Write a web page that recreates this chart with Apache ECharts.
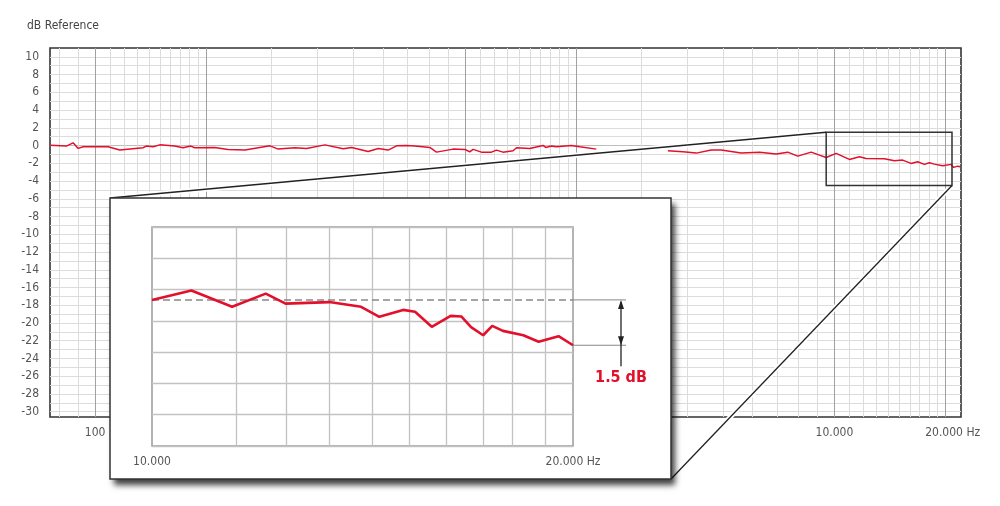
<!DOCTYPE html>
<html><head><meta charset="utf-8">
<script src="https://cdn.jsdelivr.net/npm/echarts@6/dist/echarts.min.js"></script>
<style>html,body{margin:0;padding:0;background:#fff}#c{width:1000px;height:506px}</style>
</head><body><div id="c"></div>
<script>
// ---- data ----
const mainHz = [75.6, 83.6, 87.2, 90.0, 92.8, 108.4, 116.6, 134.8, 137.6, 143.5, 149.6, 164.2, 172.9, 181.4, 186.0, 210.6, 228.8,
  254.3, 297.2, 313.0, 347.1, 373.4, 418.4, 469.0, 494.1, 547.8, 583.2, 620.5, 653.9, 695.8, 732.8,
  804.3, 838.5, 929.9, 1000, 1031.6, 1053, 1109.5, 1181, 1218, 1269, 1351, 1380, 1499, 1628, 1656, 1715, 1769, 1943, 2046, 2269,
  2900,
  3544, 3890, 4229, 4643, 4941, 5596, 6271, 6958, 7477, 7958, 8650, 9110,
  9497, 10106, 10979, 11685, 12182, 13650, 14530, 15295, 16118, 16795, 17510, 18064, 18637, 19621, 20682, 21017, 21545, 21910];
const mainDb = [0.05, -0.06, 0.31, -0.32, -0.14, -0.14, -0.51, -0.25, -0.06, -0.14, 0.08, -0.06, -0.25, -0.06, -0.25, -0.21, -0.43,
  -0.51, -0.03, -0.40, -0.25, -0.32, 0.08, -0.37, -0.21, -0.66, -0.32, -0.51, -0.03, 0.02, -0.06,
  -0.21, -0.74, -0.40, -0.43, -0.70, -0.43, -0.74, -0.74, -0.51, -0.74, -0.59, -0.25, -0.32, 0.02, -0.21, -0.06, -0.14, 0.02, -0.14, -0.40,
  null,
  -0.59, -0.70, -0.85, -0.51, -0.51, -0.85, -0.74, -0.96, -0.74, -1.19, -0.74, -1.08,
  -1.34, -0.88, -1.56, -1.27, -1.45, -1.49, -1.72, -1.64, -2.01, -1.83, -2.12, -1.94, -2.09, -2.28, -2.12, -2.46, -2.32, -2.39];

const insetHz = [10000, 10670, 11410, 12060, 12460, 13390, 14110, 14540, 15120, 15420, 15850, 16350, 16640, 16910, 17250, 17510, 17820, 18430, 18900, 19530, 20000];
const insetDb = [-1.33, -1.03, -1.55, -1.13, -1.45, -1.40, -1.55, -1.87, -1.65, -1.71, -2.19, -1.84, -1.86, -2.20, -2.46, -2.16, -2.32, -2.46, -2.67, -2.49, -2.78];

const yTickLabels = [10, 8, 6, 4, 2, 0, -2, -4, -6, -8, -10, -12, -14, -16, -18, -20, -22, -24, -26, -28, -30];
const xTickHz = [100, 10000, 20000];
const xTickText = ['100', '10.000', '20.000 Hz'];
const insetTickHz = [10000, 20000];
const insetTickText = ['10.000', '20.000 Hz'];
const insetGridHz = [11480, 12470, 13390, 14370, 15270, 16230, 17250, 18110, 19110];
const majorHz = [100, 200, 1000, 2000, 10000, 20000];
const zoomBox = { hzFrom: 9500, hzTo: 20800, dbTop: 1.5, dbBottom: -4.5 };
const yAxisTitle = 'dB Reference';
const dropLabel = '1.5 dB';

// ---- gridline lists (layout) ----
const minorHz = [80, 90];
[100, 1000, 10000].forEach(b => {
  for (let i = 11; i <= 19; i++) minorHz.push(b * i / 10);
  for (let i = 3; i <= 9; i++) if (b * i < 22000) minorHz.push(b * i);
});
const yGrid = [];
for (let v = -30; v <= 10; v++) yGrid.push(v);

const font = '"DejaVu Sans Condensed","Liberation Sans Narrow","Liberation Sans",sans-serif';
const red = '#e3102b';

function pick(v, vals, texts) {
  let best = 0, bd = Infinity;
  vals.forEach((h, i) => { const d = Math.abs(Math.log(v / h)); if (d < bd) { bd = d; best = i; } });
  return texts[best];
}

const chart = echarts.init(document.getElementById('c'));
const mainData = mainHz.map((h, i) => [h, mainDb[i] === null ? '-' : mainDb[i]]);
const insetData = insetHz.map((h, i) => [h, insetDb[i]]);

const hLines = yGrid.map(v => ({ yAxis: v, lineStyle: { color: v === 0 ? '#bdbdbd' : '#dcdcdc', width: 1, type: 'solid' } }));
const vLines = minorHz.map(h => ({ xAxis: h, lineStyle: { color: '#dcdcdc', width: 1, type: 'solid' } }))
  .concat(majorHz.map(h => ({ xAxis: h, lineStyle: { color: '#a0a0a0', width: 1, type: 'solid' } })));
const insetVLines = insetGridHz.map(h => ({ xAxis: h, lineStyle: { color: '#c2c2c2', width: 1.3, type: 'solid' } }));

const labelStyle = { color: '#555', fontSize: 12, fontFamily: font };

chart.setOption({
  animation: false,
  grid: [
    { left: 50, top: 48, width: 911, height: 369, show: true, borderColor: '#333', borderWidth: 1.6, z: 0 },
    { left: 152, top: 227, width: 421, height: 219, show: true, borderColor: '#9a9a9a', borderWidth: 1.5, z: 60 }
  ],
  xAxis: [
    { type: 'log', logBase: 10, gridIndex: 0, min: 75.5, max: 22000,
      axisLine: { show: false }, axisTick: { show: false }, splitLine: { show: false },
      axisLabel: Object.assign({ customValues: xTickHz, margin: 10,
        formatter: v => { const t = pick(v, xTickHz, xTickText); return t.indexOf('Hz') >= 0 ? '{s|' + t + '}' : t; },
        rich: { s: { padding: [0, 0, 0, 14], color: '#555', fontSize: 12, fontFamily: font } } }, labelStyle) },
    { type: 'log', logBase: 10, gridIndex: 1, min: 10000, max: 20000, z: 61,
      axisLine: { show: false }, axisTick: { show: false }, splitLine: { show: false },
      axisLabel: Object.assign({ customValues: insetTickHz, margin: 10,
        formatter: v => pick(v, insetTickHz, insetTickText) }, labelStyle) }
  ],
  yAxis: [
    { type: 'value', gridIndex: 0, min: -30.6, max: 11,
      axisLine: { show: false }, axisTick: { show: false }, splitLine: { show: false },
      axisLabel: Object.assign({ customValues: yTickLabels, margin: 11 }, labelStyle) },
    { type: 'value', gridIndex: 1, min: -6, max: 1, interval: 1, z: 61,
      axisLine: { show: false }, axisTick: { show: false }, axisLabel: { show: false },
      splitLine: { show: true, lineStyle: { color: '#c2c2c2', width: 1.3 } } }
  ],
  series: [
    { type: 'line', xAxisIndex: 0, yAxisIndex: 0, data: [[100, 0]], symbol: 'none', lineStyle: { opacity: 0 }, z: 1, silent: true,
      markLine: { z: 1, silent: true, symbol: ['none', 'none'], label: { show: false }, animation: false, data: hLines.concat(vLines) } },
    { type: 'line', xAxisIndex: 0, yAxisIndex: 0, data: mainData, symbol: 'none', connectNulls: false,
      lineStyle: { color: red, width: 1.5 }, z: 3, silent: true },
    { type: 'line', xAxisIndex: 1, yAxisIndex: 1, data: [[10000, 0]], symbol: 'none', lineStyle: { opacity: 0 }, z: 62, silent: true,
      markLine: { z: 62, silent: true, symbol: ['none', 'none'], label: { show: false }, animation: false,
        data: insetVLines.concat([{ yAxis: insetDb[0], lineStyle: { color: '#888', width: 1.5, type: [7, 4] } }]) } },
    { type: 'line', xAxisIndex: 1, yAxisIndex: 1, data: insetData, symbol: 'none',
      lineStyle: { color: red, width: 2.6 }, z: 65, silent: true }
  ]
});

// ---- annotations positioned from data via the chart's own scales ----
const px = (g, x, y) => chart.convertToPixel({ gridIndex: g }, [x, y]);
const tl = px(0, zoomBox.hzFrom, zoomBox.dbTop);
const br = px(0, zoomBox.hzTo, zoomBox.dbBottom);
const frame = { x: 110, y: 198, w: 561, h: 281 };
const yTop = px(1, insetHz[0], insetDb[0])[1];
const yBot = px(1, insetHz[insetHz.length - 1], insetDb[insetDb.length - 1])[1];
const xR = px(1, 20000, 0)[0];
const ax = xR + 48;

chart.setOption({
  graphic: [
    { type: 'text', left: 27, top: 20, z: 10, style: { text: yAxisTitle, fill: '#444', fontSize: 12, fontFamily: font } },
    { type: 'rect', z: 45, shape: { x: tl[0], y: tl[1], width: br[0] - tl[0], height: br[1] - tl[1] },
      style: { fill: 'none', stroke: '#333', lineWidth: 1.5 } },
    { type: 'line', z: 44, shape: { x1: frame.x, y1: frame.y, x2: tl[0], y2: tl[1] }, style: { stroke: '#fff', lineWidth: 5 } },
    { type: 'line', z: 44, shape: { x1: frame.x + frame.w, y1: frame.y + frame.h, x2: br[0], y2: br[1] }, style: { stroke: '#fff', lineWidth: 5 } },
    { type: 'line', z: 46, shape: { x1: frame.x, y1: frame.y, x2: tl[0], y2: tl[1] }, style: { stroke: '#222', lineWidth: 1.3 } },
    { type: 'line', z: 46, shape: { x1: frame.x + frame.w, y1: frame.y + frame.h, x2: br[0], y2: br[1] }, style: { stroke: '#222', lineWidth: 1.3 } },
    { type: 'rect', z: 50, shape: { x: frame.x, y: frame.y, width: frame.w, height: frame.h },
      style: { fill: '#fff', shadowBlur: 6, shadowOffsetX: 4, shadowOffsetY: 6, shadowColor: 'rgba(0,0,0,0.75)' } },
    { type: 'rect', z: 51, shape: { x: frame.x, y: frame.y, width: frame.w, height: frame.h },
      style: { fill: 'none', stroke: '#333', lineWidth: 1.5 } },
    { type: 'line', z: 70, shape: { x1: xR, y1: yTop, x2: ax + 5, y2: yTop }, style: { stroke: '#888', lineWidth: 1 } },
    { type: 'line', z: 70, shape: { x1: xR, y1: yBot, x2: ax + 5, y2: yBot }, style: { stroke: '#888', lineWidth: 1 } },
    { type: 'line', z: 71, shape: { x1: ax, y1: yTop + 2, x2: ax, y2: yBot + 21 }, style: { stroke: '#222', lineWidth: 1.3 } },
    { type: 'polygon', z: 71, shape: { points: [[ax, yTop], [ax - 3, yTop + 9], [ax + 3, yTop + 9]] }, style: { fill: '#222' } },
    { type: 'polygon', z: 71, shape: { points: [[ax, yBot], [ax - 3, yBot - 9], [ax + 3, yBot - 9]] }, style: { fill: '#222' } },
    { type: 'text', z: 71, x: ax, y: yBot + 33, style: { text: dropLabel, fill: red, fontSize: 16, fontWeight: 'bold', fontFamily: font, align: 'center', verticalAlign: 'middle' } }
  ]
});
</script></body></html>
